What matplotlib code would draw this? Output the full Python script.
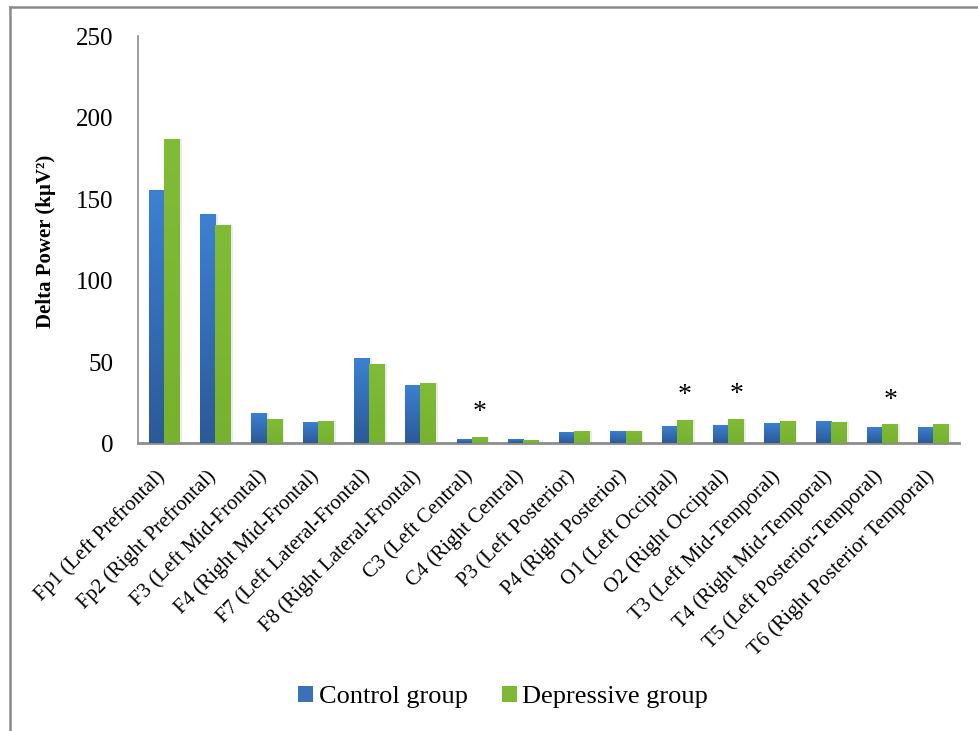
import numpy as np
import matplotlib
matplotlib.use("Agg")
import matplotlib.pyplot as plt
import matplotlib.transforms as mtransforms
from matplotlib.patches import Rectangle, Patch
from matplotlib.colors import LinearSegmentedColormap
from matplotlib.lines import Line2D

# EEG electrode sites and mean delta power for each group
sites = ["Fp1 (Left Prefrontal)", "Fp2 (Right Prefrontal)", "F3 (Left Mid-Frontal)",
         "F4 (Right Mid-Frontal)", "F7 (Left Lateral-Frontal)", "F8 (Right Lateral-Frontal)",
         "C3 (Left Central)", "C4 (Right Central)", "P3 (Left Posterior)",
         "P4 (Right Posterior)", "O1 (Left Occiptal)", "O2 (Right Occiptal)",
         "T3 (Left Mid-Temporal)", "T4 (Right Mid-Temporal)",
         "T5 (Left Posterior-Temporal)", "T6 (Right Posterior Temporal)"]
control = [155.7, 141, 18.7, 13.2, 52.5, 35.9, 2.8, 2.8, 7.2, 7.8, 10.9, 11.5, 12.8, 14.0, 10.3, 10.3]
depressive = [187, 134, 15.0, 13.8, 49.0, 37.4, 4.1, 2.4, 7.4, 7.6, 14.4, 15.3, 14.0, 13.0, 11.7, 12.0]
# sites with a significant group difference
sig_sites = [6, 10, 11, 14]

serif = "Liberation Serif"
plt.rcParams["font.family"] = serif

fig = plt.figure(figsize=(9.79, 7.31), dpi=100)
ax = fig.add_axes([0.1413, 0.3933, 0.8383, 0.5568])

x = np.arange(len(sites))
w = 0.296

blue_cmap = LinearSegmentedColormap.from_list("blue", ["#2b5a97", "#3d81d3"])
green_cmap = LinearSegmentedColormap.from_list("green", ["#77b22f", "#80bc36"])
grad = np.linspace(0, 1, 100).reshape(-1, 1)


def gradient_bars(xs, heights, cmap):
    bars = ax.bar(xs, heights, width=w, color="none", edgecolor="none", zorder=3)
    for b in bars:
        x0, y0 = b.get_x(), b.get_y()
        bw, bh = b.get_width(), b.get_height()
        # soft shadow to the right of each bar
        ax.add_patch(Rectangle((x0 + 0.05, y0), bw, bh, color="#b0b0b0", alpha=0.25,
                               lw=0, zorder=2))
        im = ax.imshow(grad, cmap=cmap, origin="lower", aspect="auto",
                       extent=[x0, x0 + bw, y0, y0 + bh], zorder=3)
        im.set_clip_path(b)
    return bars


gradient_bars(x - w / 2, control, blue_cmap)
gradient_bars(x + w / 2, depressive, green_cmap)

for i in sig_sites:
    ax.text(i + w / 2 + 0.01, depressive[i] + 15, "*", ha="center", va="center",
            fontsize=20, family=serif)

ax.set_xlim(-0.5, len(sites) - 0.5)
ax.set_ylim(0, 250)
ax.set_yticks(np.arange(0, 251, 50))
ax.tick_params(axis="y", length=0, pad=18, labelsize=18)
ax.set_xticks(x)
ax.set_xticklabels(sites, rotation=45, ha="right", fontsize=15)
ax.tick_params(axis="x", length=0, pad=16.5)
# nudge the slanted labels a little to the right
shift = mtransforms.ScaledTranslation(5 / 100, 0, fig.dpi_scale_trans)
for lbl in ax.get_xticklabels():
    lbl.set_transform(lbl.get_transform() + shift)

for s in ["top", "right"]:
    ax.spines[s].set_visible(False)
ax.spines["left"].set_color("#8c8c8c")
ax.spines["left"].set_linewidth(1.2)
ax.spines["bottom"].set_color("#8c8c8c")
ax.spines["bottom"].set_linewidth(2)

fig.text(46 / 979, 1 - 241 / 731, "Delta Power (kµV²)", rotation=90, ha="center",
         va="center", fontsize=15, fontweight="bold")

handles = [Patch(facecolor="#3a71b8", edgecolor="none"),
           Patch(facecolor="#7db934", edgecolor="none")]
fig.legend(handles, ["Control group", "Depressive group"], loc="center",
           bbox_to_anchor=(0.514, 0.0465), ncol=2, frameon=False, fontsize=19,
           handlelength=0.57, handleheight=0.57, handletextpad=0.2, columnspacing=1.3)

# outer frame along the left and top edges
fig.add_artist(Line2D([10 / 979, 10 / 979], [0, 1 - 7 / 731], transform=fig.transFigure,
                      color="#8a8a8a", lw=1.8))
fig.add_artist(Line2D([10 / 979, 1], [1 - 7 / 731, 1 - 7 / 731], transform=fig.transFigure,
                      color="#8a8a8a", lw=1.8))

fig.savefig("out.png", dpi=100)
